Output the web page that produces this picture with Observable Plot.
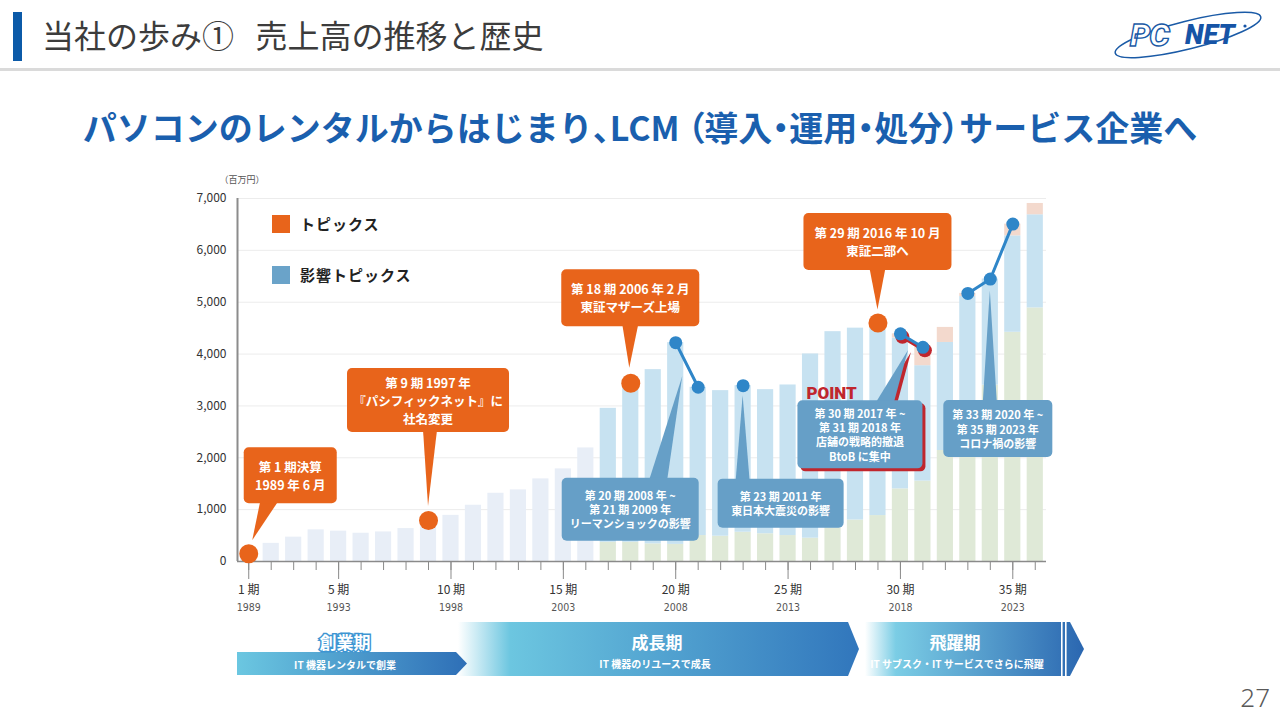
<!DOCTYPE html>
<html lang="ja">
<head>
<meta charset="utf-8">
<script src="https://cdn.jsdelivr.net/npm/d3@7"></script>
<script src="https://cdn.jsdelivr.net/npm/@observablehq/plot@0.6"></script>
<style>
  html, body { margin: 0; padding: 0; background: #fff; }
  #page { position: relative; width: 1280px; height: 720px; overflow: hidden;
          font-family: "Noto Sans CJK JP", "Noto Sans", sans-serif; }
  #deco { position: absolute; left: 0; top: 0; }
  #chart { position: absolute; left: 0; top: 160px; }
  #chart svg { background: transparent; }
  .abs { position: absolute; white-space: nowrap; }
  .title { left: 42px; top: 13px; font-size: 32px; line-height: 42px; color: #3c3c3c; font-weight: 400; }
  .subtitle { left: 0; width: 1280px; text-align: center; top: 104px; font-size: 34px; line-height: 46px;
              color: #1a5fae; font-weight: 700; }
  .p { font-feature-settings: "palt"; }
  .leg { left: 300px; font-size: 15px; line-height: 20px; font-weight: 700; color: #222; letter-spacing: 1px; }
  .sq { left: 272px; width: 18px; height: 18px; }
  .pageno { right: 10px; top: 680px; font-size: 26px; line-height: 34px; color: #595959; font-weight: 300;
            font-family: "Noto Sans", sans-serif; }
</style>
</head>
<body>
<div id="page">
  <svg id="deco" width="1280" height="720">
    <defs>
      <linearGradient id="g1" gradientUnits="userSpaceOnUse" x1="237" y1="0" x2="467" y2="0">
        <stop offset="0" stop-color="#6bc7e1"/><stop offset="1" stop-color="#2e6fb7"/>
      </linearGradient>
      <linearGradient id="g2" gradientUnits="userSpaceOnUse" x1="458" y1="0" x2="860" y2="0">
        <stop offset="0" stop-color="#ffffff"/><stop offset="0.13" stop-color="#6cc6e0"/><stop offset="1" stop-color="#3176bc"/>
      </linearGradient>
      <linearGradient id="g3" gradientUnits="userSpaceOnUse" x1="865" y1="0" x2="1085" y2="0">
        <stop offset="0" stop-color="#ffffff"/><stop offset="0.14" stop-color="#7bcde5"/><stop offset="1" stop-color="#2a66b0"/>
      </linearGradient>
    </defs>
    <rect x="13" y="12" width="9" height="49" fill="#0b5aa8"/>
    <rect x="0" y="68" width="1280" height="3" fill="#dadada"/>
    <!-- logo -->
    <ellipse cx="1188" cy="35" rx="75" ry="14" transform="rotate(-14 1188 35)" fill="none" stroke="#1a5aa6" stroke-width="1.5"/>
    <text x="1130" y="46" font-family="Roboto, sans-serif" font-style="italic" font-weight="900" font-size="32"
          fill="#ffffff" stroke="#1a5aa6" stroke-width="1.4" letter-spacing="-1">PC</text>
    <text x="1185" y="44" font-family="Roboto, sans-serif" font-style="italic" font-weight="900" font-size="27"
          fill="#1654a6">NET</text>
    <circle cx="1245" cy="26" r="1.6" fill="#1654a6"/>
    <!-- phase bands -->
    <polygon points="458,622 848,622 859,649 848,676 458,676" fill="url(#g2)"/>
    <polygon points="237,652 456,652 467,663.5 456,675 237,675" fill="url(#g1)"/>
    <polygon points="865,622 1070,622 1084,649 1070,676 865,676" fill="url(#g3)"/>
    <rect x="1061" y="622" width="1.6" height="54" fill="#fff"/>
    <rect x="1065" y="622" width="1.6" height="54" fill="#fff"/>
    <g font-family="Noto Sans CJK JP, sans-serif" text-anchor="middle" dominant-baseline="central">
      <text x="345" y="641" font-size="17" font-weight="700" fill="#fff" stroke="#3d95d2" stroke-width="3" paint-order="stroke">創業期</text>
      <text x="345" y="664" font-size="10" font-weight="700" fill="#fff">IT 機器レンタルで創業</text>
      <text x="657" y="641" font-size="17" font-weight="700" fill="#fff">成長期</text>
      <text x="655" y="663" font-size="10" font-weight="700" fill="#fff">IT 機器のリユースで成長</text>
      <text x="955" y="641" font-size="17" font-weight="700" fill="#fff">飛躍期</text>
      <text x="957" y="663" font-size="10" font-weight="700" fill="#fff">IT サブスク・IT サービスでさらに飛躍</text>
    </g>
  </svg>
  <div class="abs title">当社の歩み①&nbsp;&nbsp;&nbsp;売上高の推移と歴史</div>
  <div class="abs subtitle">パソコンのレンタルからはじまり<span class="p">、</span>LCM <span class="p">（</span>導入<span class="p">・</span>運用<span class="p">・</span>処分<span class="p">）</span>サービス企業へ</div>
  <div id="chart"></div>
  <div class="abs sq" style="top:215px;background:#e8641b"></div>
  <div class="abs leg" style="top:214px">トピックス</div>
  <div class="abs sq" style="top:266px;background:#6aa3c9"></div>
  <div class="abs leg" style="top:265px">影響トピックス</div>
  <div class="abs pageno">27</div>
</div>
<script>
// ---------------- data ----------------
const periods = [1,2,3,4,5,6,7,8,9,10,11,12,13,14,15,16,17,18,19,20,21,22,23,24,25,26,27,28,29,30,31,32,33,34,35,36];
// periods 1-16 (single pale bar)
const earlyValues = [150, 350, 470, 610, 585, 545, 570, 635, 790, 890, 1085, 1316, 1381, 1593, 1786, 2190];
// periods 17-36 (stacked)
const laterTotals  = [2954, 3436, 3700, 4220, 3360, 3295, 3391, 3314, 3404, 4002, 4432, 4500, 4600, 4390, 4130, 4514, 5170, 5447, 6506, 6904];
const serviceValues = [370, 370, 340, 330, 500, 488, 565, 535, 500, 450, 650, 800, 886, 1400, 1550, 2140, 2700, 3400, 4420, 4890];
const otherValues   = [0, 0, 0, 0, 0, 0, 0, 0, 0, 0, 0, 0, 0, 80, 354, 290, 60, 0, 226, 218];
const topicPeriods  = [1, 9, 18, 29];
const impactPeriods = [20, 21, 23, 30, 31, 33, 34, 35];
const impactGroups  = [[20, 21], [30, 31], [33, 34, 35]];
const pointGroup    = [30, 31];
const labeledPeriods = [1, 5, 10, 15, 20, 25, 30, 35];
const labeledYears   = ["1989", "1993", "1998", "2003", "2008", "2013", "2018", "2023"];
const yTicks = [0, 1000, 2000, 3000, 4000, 5000, 6000, 7000];

const calloutPeriods = [1, 9, 18, 29, 20, 23, 30, 34];
const calloutKinds   = ["topic", "topic", "topic", "topic", "impact", "impact", "impact", "impact"];
const calloutTexts = [
  ["第 1 期決算", "1989 年 6 月"],
  ["第 9 期 1997 年", "『パシフィックネット』に", "社名変更"],
  ["第 18 期 2006 年 2 月", "東証マザーズ上場"],
  ["第 29 期 2016 年 10 月", "東証二部へ"],
  ["第 20 期 2008 年 ~", "第 21 期 2009 年", "リーマンショックの影響"],
  ["第 23 期 2011 年", "東日本大震災の影響"],
  ["第 30 期 2017 年 ~", "第 31 期 2018 年", "店舗の戦略的撤退", "BtoB に集中"],
  ["第 33 期 2020 年 ~", "第 35 期 2023 年", "コロナ禍の影響"]
];
// annotation placement (pixels relative to the anchored data point)
const calloutLayout = [
  {dx: 42, dy: -78, w: 93, h: 56, bx: 21, bw: 18, tx: 4, ty: -13},
  {dx: 0, dy: -120, w: 162, h: 64, bx: 2, bw: 14, tx: 0, ty: -14},
  {dx: 0, dy: -85, w: 138, h: 57, bx: 0, bw: 16, tx: -1, ty: -15},
  {dx: 0, dy: -81, w: 148, h: 57, bx: 0, bw: 16, tx: 0, ty: -13},
  {dx: -45, dy: 167, w: 137, h: 63, bx: -17, bw: 18, tx: 7, ty: 34},
  {dx: 38, dy: 118, w: 126, h: 49, bx: 0, bw: 14, tx: 0, ty: 10},
  {dx: -40, dy: 101, w: 125, h: 68, bx: -15, bw: 18, tx: 8, ty: 17, point: true},
  {dx: 8, dy: 150, w: 109, h: 57, bx: 0, bw: 14, tx: 0, ty: 12}
];

// ---------------- derived tables ----------------
const totalOf = p => p <= 16 ? earlyValues[p - 1] : laterTotals[p - 17];
const segs = [];
periods.forEach(p => {
  if (p <= 16) {
    segs.push({p, series: "early", y1: 0, y2: earlyValues[p - 1]});
  } else {
    const i = p - 17, g = serviceValues[i], o = otherValues[i], t = laterTotals[i];
    segs.push({p, series: "service", y1: 0, y2: g});
    segs.push({p, series: "rental", y1: g, y2: t - o});
    if (o > 0) segs.push({p, series: "other", y1: t - o, y2: t});
  }
});
const lineData = impactGroups.flatMap((g, gi) => g.map(p => ({p, v: totalOf(p), g: gi})));
const pointData = pointGroup.map(p => ({p, v: totalOf(p)}));

const ORANGE = "#e8641b", BLUE = "#2f86c8", RED = "#c0262d", BOXBLUE = "#669fc7";

const chart = Plot.plot({
  width: 1280, height: 460,
  marginLeft: 237, marginRight: 234, marginTop: 38, marginBottom: 59,
  x: {domain: [0.5, 36.5], axis: null},
  y: {domain: [0, 7000], axis: null},
  color: {domain: ["early", "service", "rental", "other"], range: ["#e8eef7", "#dfe9d7", "#c7e2f1", "#f3d9cd"]},
  style: {fontFamily: "'Noto Sans CJK JP', 'Noto Sans', sans-serif", background: "transparent", overflow: "visible"},
  marks: [
    Plot.gridY({ticks: yTicks.filter(v => v > 0), stroke: "#ececec", strokeOpacity: 1}),
    Plot.rect(segs, {x1: d => d.p - 0.36, x2: d => d.p + 0.36, y1: "y1", y2: "y2", fill: "series"}),
    Plot.axisY({ticks: yTicks, tickSize: 0, tickPadding: 11, tickFormat: d3.format(","), fontSize: 12, fill: "#333", label: null}),
    Plot.text(["（百万円）"], {frameAnchor: "top-left", dx: -18, dy: -22, textAnchor: "start", fontSize: 9, fill: "#555"}),
    Plot.axisX({ticks: periods, tickSize: 9, tickFormat: () => "", stroke: "#8a8a8a", label: null}),
    Plot.axisX({ticks: labeledPeriods, tickSize: 18, tickFormat: () => "", stroke: "#8a8a8a", label: null}),
    Plot.ruleY([0], {stroke: "#8a8a8a", strokeWidth: 1.5}),
    Plot.ruleX([0.5], {stroke: "#8c8c8c", strokeWidth: 2}),
    Plot.text(labeledPeriods, {x: d => d, frameAnchor: "bottom", dy: 32, text: d => `${d} 期`, fontSize: 12, fill: "#333"}),
    Plot.text(labeledPeriods, {x: d => d, frameAnchor: "bottom", dy: 49, text: (d, i) => labeledYears[i], fontSize: 10.5, fill: "#555",
      fontFamily: "'DejaVu Sans Condensed', 'Liberation Sans Narrow', sans-serif"}),
    Plot.dot(topicPeriods, {x: d => d, y: d => totalOf(d), r: 9.5, fill: ORANGE}),
    Plot.line(pointData, {x: "p", y: "v", stroke: RED, strokeWidth: 4, dx: 2, dy: 3}),
    Plot.dot(pointData, {x: "p", y: "v", r: 7, fill: RED, dx: 2, dy: 3}),
    Plot.line(lineData, {x: "p", y: "v", z: "g", stroke: BLUE, strokeWidth: 3}),
    Plot.dot(impactPeriods, {x: d => d, y: d => totalOf(d), r: 6.5, fill: BLUE})
  ]
});
document.getElementById("chart").appendChild(chart);

// ---------------- callouts (anchored with the chart's scales) ----------------
const sx = chart.scale("x"), sy = chart.scale("y");
const fx = sx.apply ? v => sx.apply(v) : d3.scaleLinear(sx.domain, sx.range);
const fy = sy.apply ? v => sy.apply(v) : d3.scaleLinear(sy.domain, sy.range);
const svg = d3.select(chart);
const layer = svg.append("g").attr("font-family", "'Noto Sans CJK JP', sans-serif");

calloutPeriods.forEach((p, i) => {
  const L = calloutLayout[i], kind = calloutKinds[i], lines = calloutTexts[i];
  const ax = fx(p), ay = fy(totalOf(p));
  const cx = ax + L.dx, cy = ay + L.dy;
  const left = cx - L.w / 2, top = cy - L.h / 2;
  const below = L.ty > 0;
  const baseY = below ? top + 2 : top + L.h - 2;
  const bx = ax + L.bx;
  const tip = [ax + L.tx, ay + L.ty];
  const tri = `M${bx - L.bw / 2},${baseY}L${bx + L.bw / 2},${baseY}L${tip[0]},${tip[1]}Z`;
  const fill = kind === "topic" ? ORANGE : BOXBLUE;
  const g = layer.append("g");
  if (L.point) {
    g.append("path").attr("d", tri).attr("fill", RED).attr("transform", "translate(3,2)");
    g.append("rect").attr("x", left + 3).attr("y", top + 3).attr("width", L.w).attr("height", L.h).attr("rx", 5).attr("fill", RED);
    g.append("text").attr("x", left + 9).attr("y", top - 1).attr("text-anchor", "start")
      .attr("font-family", "Roboto, sans-serif")
      .attr("font-weight", 900).attr("font-size", 17).attr("fill", RED).text("POINT");
  }
  g.append("path").attr("d", tri).attr("fill", fill);
  g.append("rect").attr("x", left).attr("y", top).attr("width", L.w).attr("height", L.h).attr("rx", 5).attr("fill", fill);
  const lh = kind === "topic" ? 18 : 14.3;
  const fs = kind === "topic" ? 12.5 : 11;
  lines.forEach((t, j) => {
    g.append("text").attr("x", cx).attr("y", cy + (j - (lines.length - 1) / 2) * lh)
      .attr("text-anchor", "middle").attr("dominant-baseline", "central")
      .attr("font-size", fs).attr("font-weight", 700).attr("fill", "#fff").text(t);
  });
});
</script>
</body>
</html>
